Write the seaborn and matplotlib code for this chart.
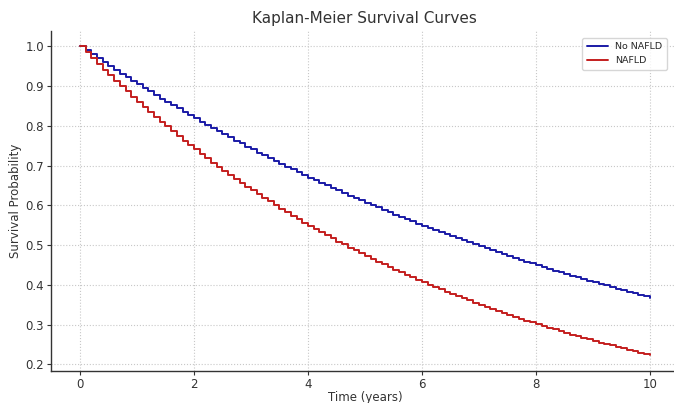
import numpy as np
import pandas as pd
import seaborn as sns
import matplotlib.pyplot as plt

# survival values, one per 0.1-year step (t = 0 .. 10)
no_nafld = [
    1.000, 0.990, 0.980, 0.970, 0.961, 0.951, 0.942, 0.932, 0.923, 0.914,
    0.905, 0.896, 0.887, 0.878, 0.869, 0.861, 0.852, 0.844, 0.835, 0.827,
    0.819, 0.811, 0.803, 0.795, 0.787, 0.779, 0.771, 0.763, 0.756, 0.748,
    0.741, 0.733, 0.726, 0.719, 0.712, 0.705, 0.698, 0.691, 0.684, 0.677,
    0.670, 0.664, 0.657, 0.651, 0.644, 0.638, 0.631, 0.625, 0.619, 0.613,
    0.607, 0.600, 0.595, 0.589, 0.583, 0.577, 0.571, 0.566, 0.560, 0.554,
    0.549, 0.543, 0.538, 0.533, 0.527, 0.522, 0.517, 0.512, 0.507, 0.502,
    0.497, 0.492, 0.487, 0.482, 0.477, 0.472, 0.468, 0.463, 0.458, 0.454,
    0.449, 0.445, 0.440, 0.436, 0.432, 0.427, 0.423, 0.419, 0.415, 0.411,
    0.407, 0.403, 0.399, 0.395, 0.391, 0.387, 0.383, 0.379, 0.375, 0.372,
    0.368,
]
nafld = [
    1.000, 0.985, 0.970, 0.956, 0.942, 0.928, 0.914, 0.900, 0.887, 0.874,
    0.861, 0.848, 0.835, 0.823, 0.811, 0.799, 0.787, 0.775, 0.763, 0.752,
    0.741, 0.730, 0.719, 0.708, 0.698, 0.687, 0.677, 0.667, 0.657, 0.647,
    0.638, 0.628, 0.619, 0.610, 0.601, 0.592, 0.583, 0.574, 0.566, 0.557,
    0.549, 0.541, 0.533, 0.525, 0.517, 0.509, 0.502, 0.494, 0.487, 0.480,
    0.472, 0.465, 0.458, 0.452, 0.445, 0.438, 0.432, 0.425, 0.419, 0.413,
    0.407, 0.401, 0.395, 0.389, 0.383, 0.377, 0.372, 0.366, 0.361, 0.355,
    0.350, 0.345, 0.340, 0.335, 0.330, 0.325, 0.320, 0.315, 0.310, 0.306,
    0.301, 0.297, 0.292, 0.288, 0.284, 0.279, 0.275, 0.271, 0.267, 0.263,
    0.259, 0.255, 0.252, 0.248, 0.244, 0.241, 0.237, 0.233, 0.230, 0.227,
    0.223,
]
groups = ["No NAFLD", "NAFLD"]
colors = {"No NAFLD": "#1a1aa6", "NAFLD": "#c41e1e"}

times = np.linspace(0, 10, len(no_nafld))
df = pd.concat([
    pd.DataFrame({"Time": times, "Survival": no_nafld, "Group": groups[0]}),
    pd.DataFrame({"Time": times, "Survival": nafld, "Group": groups[1]}),
])

sns.set_style("whitegrid", {"grid.linestyle": ":", "grid.color": "#c8c8c8",
                            "axes.edgecolor": "#333333"})
plt.rcParams["font.family"] = ["DejaVu Sans"]

fig = plt.figure(figsize=(6.74, 4.03), dpi=100)
ax = fig.add_axes([0.0764, 0.08, 0.93, 0.843])

sns.lineplot(data=df, x="Time", y="Survival", hue="Group", hue_order=groups,
             palette=colors, drawstyle="steps-post", linewidth=1.4, ax=ax)

ax.set_title("Kaplan-Meier Survival Curves", fontsize=11, color="#333333", pad=6)
ax.set_xlabel("Time (years)", fontsize=8.5, color="#333333", labelpad=0)
ax.set_ylabel("Survival Probability", fontsize=8.5, color="#333333", labelpad=2)
ax.tick_params(axis="both", labelsize=8.5, colors="#333333", length=3,
               width=0.8, pad=2.5, left=True, bottom=True)
for side in ["top", "right"]:
    ax.spines[side].set_visible(False)
for side in ["left", "bottom"]:
    ax.spines[side].set_linewidth(1.0)

# keep the legend box inside the visible picture
ax.legend(title=None, loc="upper right", fontsize=6.8, frameon=True,
          handlelength=2.2, borderpad=0.5,
          bbox_to_anchor=(0.997, 0.918), bbox_transform=fig.transFigure)

fig.savefig("out.png", dpi=100)
